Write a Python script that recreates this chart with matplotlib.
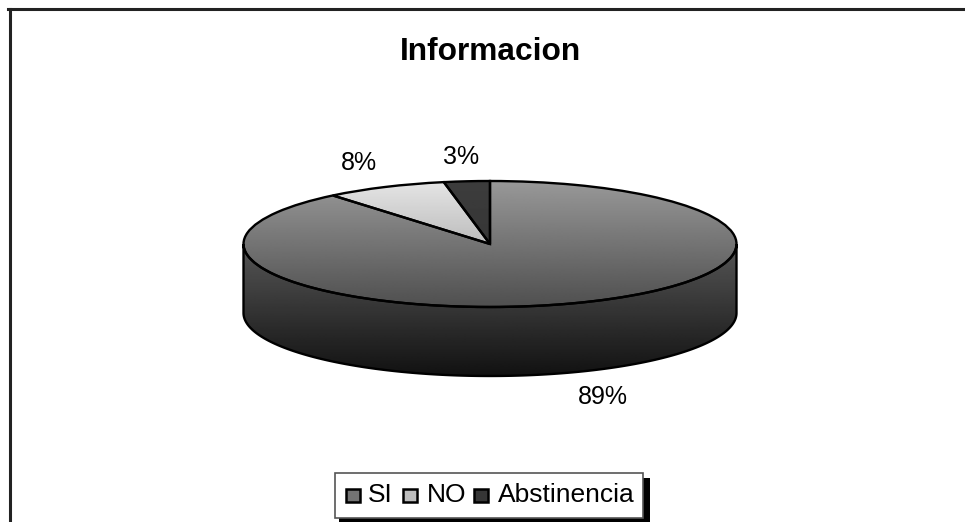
import numpy as np
import matplotlib
matplotlib.use('Agg')
import matplotlib.pyplot as plt
from matplotlib.patches import Rectangle, Polygon

plt.rcParams['font.family'] = ['Liberation Sans', 'DejaVu Sans']

# datos
categorias = ['SI', 'NO', 'Abstinencia']
valores = [89, 8, 3]
titulo = 'Informacion'

W, H = 965, 522
CX, CY = 490, 244     # centro de la elipse
RX, RY = 246.5, 63
FONDO = 69            # alto del lateral

# degradados (arriba, abajo) en gris
grad_cara = {'SI': (0.60, 0.31), 'NO': (0.90, 0.58), 'Abstinencia': (0.24, 0.18)}
grad_lado = (0.34, 0.07)

fig = plt.figure(figsize=(W / 100, H / 100), dpi=100, facecolor='white')

# ejes en unidades del radio, la elipse es un circulo aplastado
ax = fig.add_axes([0, 0, 1, 1])
wedges, _ = ax.pie(valores, startangle=90, counterclock=False, radius=1, center=(0, 0),
                   wedgeprops=dict(edgecolor='black', linewidth=1.7, facecolor='none'))
ax.set_aspect('auto')
ax.axis('off')


def px(x, y):
    return x / W, 1 - y / H


def degradado(top, bottom, extent, clip, z):
    g = np.linspace(top, bottom, 128).reshape(-1, 1)
    im = ax.imshow(g, cmap='gray', vmin=0, vmax=1, aspect='auto', zorder=z,
                   extent=extent, origin='upper')
    im.set_clip_path(clip)


# lateral del cilindro
dz = FONDO / RY
t = np.linspace(np.pi, 2 * np.pi, 200)
xs = np.cos(t)
ys = np.sin(t)
lado = np.column_stack([np.r_[xs, xs[::-1]], np.r_[ys, ys[::-1] - dz]])
lado_patch = Polygon(lado, closed=True, facecolor='none', edgecolor='black', linewidth=1.7, zorder=4)
ax.add_patch(lado_patch)
degradado(grad_lado[0], grad_lado[1], [-1.02, 1.02, -1 - dz, 0], lado_patch, 2)

# cara superior con un degradado por sector
for w, nombre in zip(wedges, categorias):
    top, bottom = grad_cara[nombre]
    degradado(top, bottom, [-1.02, 1.02, -1.02, 1.02], w, 3)
    w.set_zorder(5)

ax.set_xlim(-CX / RX, (W - CX) / RX)
ax.set_ylim((CY - H) / RY, CY / RY)

# marco del grafico, abierto por la derecha y por abajo
fig.add_artist(plt.Line2D([9.5 / W, 9.5 / W], [0, 1 - 9 / H], color='#222222', lw=2.2))
fig.add_artist(plt.Line2D([8 / W, 1], [1 - 9 / H, 1 - 9 / H], color='#222222', lw=2.2))

# titulo y etiquetas
fig.text(*px(490, 52), titulo, fontsize=22.8, fontweight='bold', ha='center', va='center', color='black')
etiquetas = [f'{v}%' for v in valores]
pos_etq = [(603, 397), (359, 163), (461, 157)]
for et, (x, y) in zip(etiquetas, pos_etq):
    fig.text(*px(x, y), et, fontsize=18, ha='center', va='center', color='black')

# leyenda con sombra negra
fig.add_artist(Rectangle(px(339, 522), 311 / W, 44 / H, transform=fig.transFigure, facecolor='black', edgecolor='none'))
fig.add_artist(Rectangle(px(335, 518), 308 / W, 45 / H, transform=fig.transFigure, facecolor='white', edgecolor='#555555', lw=1.2))
marca_x = [345, 402, 473]
texto_x = [368, 427, 498]
for nombre, mx, tx in zip(categorias, marca_x, texto_x):
    top, bottom = grad_cara[nombre]
    fig.add_artist(Rectangle(px(mx + 1, 502), 14 / W, 13 / H, transform=fig.transFigure,
                             facecolor=str((top + bottom) / 2), edgecolor='black', lw=1.8))
    fig.text(*px(tx, 495), nombre, fontsize=19, ha='left', va='center', color='black')

fig.savefig('out.png', dpi=100)
